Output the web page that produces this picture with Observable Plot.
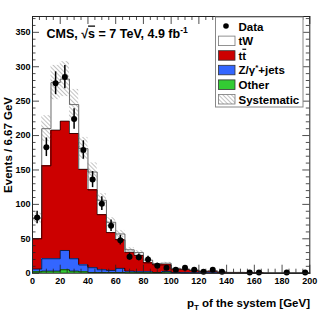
<!DOCTYPE html>
<html><head><meta charset="utf-8">
<script src="https://cdn.jsdelivr.net/npm/d3@7"></script>
<script src="https://cdn.jsdelivr.net/npm/@observablehq/plot@0.6"></script>
<style>
html,body{margin:0;padding:0;background:#fff;}
#chart{width:327px;height:314px;}
svg{display:block;}
</style>
</head><body><div id="chart"></div>
<script>
// ---- data ----
const binWidth = 20 / 3;            // 6.67 GeV bins, 0-200 GeV
const nBins = 30;
const dataCounts = [81,183,276,285,224,179,136,101,69,48,24,23,20,11,8,5,8,5,2,5,2,0,0,1,1,0,0,1,0,1];
const other = [2,3,3,5,3,2,1,1,1,1,0.5,0.5,0.3,0.3,0.3,0.2,0.2,0.1,0.1,0.1,0,0,0,0,0,0,0,0,0,0];
const zjets = [4,18,18,28,18,10,7,4,3,6,2.5,1.5,1.7,0.7,2.1,0.8,0.3,0.4,0.2,0.2,0.2,0,0,0,0,0,0,0,0,0];
const ttbar = [44,135,187,188,182,139,113,80,55,41.5,27.5,24,13,11,9.6,5,5,3.5,2.2,2.7,1.3,1,1,0.5,0.5,0,0,0,0,0];
const tW    = [30,54,69,61,42,30,26,21,15,8.5,3.5,4,4,2,2.5,1,0.5,0.5,0.5,0.5,0.5,0.2,0.2,0.1,0.1,0,0,0,0,0];
const systFrac = 0.09;
const components = ["Other", "Z/γ*+jets", "tt̄", "tW"];
const compColors = ["#33cc33", "#3366ff", "#cc0000", "#ffffff"];
const xTickLabels = [0,20,40,60,80,100,120,140,160,180,200];
const yTickLabels = [0,50,100,150,200,250,300,350];
const xMinor = d3.range(0, 201, 5);
const yMinor = d3.range(0, 371, 10);

// ---- derived tables ----
const edges = d3.range(nBins + 1).map(i => i * binWidth);
const series = [other, zjets, ttbar, tW];
const cum = [];
let run = new Array(nBins).fill(0);
series.forEach(arr => { const base = run.slice(); run = run.map((v, i) => v + arr[i]); cum.push({base, top: run.slice()}); });
const rects = [];
series.forEach((arr, k) => arr.forEach((v, i) => {
  if (v > 0) rects.push({comp: components[k], x1: edges[i], x2: edges[i + 1], y1: cum[k].base[i], y2: cum[k].top[i]});
}));
const steps = [];
cum.forEach((c, k) => c.top.forEach((v, i) => {
  steps.push({level: k, x: edges[i], y: v});
  steps.push({level: k, x: edges[i + 1], y: v});
}));
const total = cum[3].top;
const band = total.map((t, i) => ({x1: edges[i], x2: edges[i + 1], y1: t * (1 - systFrac), y2: t * (1 + systFrac)})).filter(d => d.y2 > d.y1);
const pts = dataCounts.map((n, i) => ({x: (edges[i] + edges[i + 1]) / 2, n})).filter(d => d.n > 0);

const YMAX = 373;
const xMajLen = 8 / 0.6886, xMinLen = 4 / 0.6886;   // tick lengths (in y units)
const yMajLen = 7 / 1.385, yMinLen = 3.5 / 1.385;   // tick lengths (in x units)
const isMajX = v => v % 20 === 0, isMajY = v => v % 50 === 0;

const plot = Plot.plot({
  width: 327, height: 314,
  marginLeft: 32, marginRight: 17.7, marginTop: 16, marginBottom: 41.3,
  style: {fontFamily: "'Liberation Sans', Arial, sans-serif", fontWeight: "bold", fontSize: "9px", background: "#fff", color: "#000"},
  x: {domain: [0, 200]},
  y: {domain: [0, YMAX]},
  color: {domain: components, range: compColors},
  marks: [
    Plot.rect(rects, {x1: "x1", x2: "x2", y1: "y1", y2: "y2", fill: "comp", shapeRendering: "crispEdges"}),
    Plot.line(steps.filter(d => d.level < 3), {x: "x", y: "y", z: "level", stroke: "#000", strokeWidth: 0.7}),
    Plot.line(steps.filter(d => d.level === 3), {x: "x", y: "y", stroke: "#444", strokeWidth: 0.8}),
    Plot.rect(band, {x1: "x1", x2: "x2", y1: "y1", y2: "y2", fill: "url(#hatch)"}),
    // inside ticks on all four sides
    Plot.ruleX(xMinor, {x: d => d, y1: 0, y2: d => isMajX(d) ? xMajLen : xMinLen, stroke: "#222", strokeWidth: 0.8}),
    Plot.ruleX(xMinor, {x: d => d, y1: YMAX, y2: d => YMAX - (isMajX(d) ? xMajLen : xMinLen), stroke: "#222", strokeWidth: 0.8}),
    Plot.ruleY(yMinor, {y: d => d, x1: 0, x2: d => isMajY(d) ? yMajLen : yMinLen, stroke: "#222", strokeWidth: 0.8}),
    Plot.ruleY(yMinor, {y: d => d, x1: 200, x2: d => 200 - (isMajY(d) ? yMajLen : yMinLen), stroke: "#222", strokeWidth: 0.8}),
    Plot.ruleX(pts, {x: "x", y1: d => d.n - Math.sqrt(d.n), y2: d => d.n + Math.sqrt(d.n), stroke: "#000", strokeWidth: 1.5}),
    Plot.dot(pts, {x: "x", y: "n", r: 3, fill: "#000"}),
    Plot.frame({stroke: "#222", strokeWidth: 1}),
    Plot.axisX(xTickLabels, {tickSize: 0, tickPadding: 4, label: null, fontSize: 9}),
    Plot.axisY(yTickLabels, {tickSize: 0, tickPadding: 2, label: null, fontSize: 9})
  ]
});
document.getElementById("chart").appendChild(plot);

// ---- hatch pattern, titles and legend ----
const svg = d3.select(plot);
const defs = svg.insert("defs", ":first-child");
const pat = defs.append("pattern").attr("id", "hatch").attr("patternUnits", "userSpaceOnUse")
  .attr("width", 3).attr("height", 3).attr("patternTransform", "rotate(-45)");
pat.append("line").attr("x1", 0).attr("y1", 0).attr("x2", 0).attr("y2", 3).attr("stroke", "#777").attr("stroke-width", 0.9);

const FONT = "'Liberation Sans', Arial, sans-serif";
const g = svg.append("g").attr("font-family", FONT).attr("font-weight", "bold").attr("fill", "#000").attr("text-anchor", "start");

// x title
const xt = g.append("text").attr("x", 310).attr("y", 306.5).attr("text-anchor", "end").attr("font-size", 11.5);
xt.append("tspan").text("p");
xt.append("tspan").attr("font-size", 8).attr("dy", 3).text("T");
xt.append("tspan").attr("dy", -3).text(" of the system [GeV]");

// y title
g.append("text").attr("transform", "translate(12,97) rotate(-90)").attr("text-anchor", "end")
  .attr("font-size", 11.5).text("Events / 6.67 GeV");

// CMS label
const cms = g.append("text").attr("x", 46.5).attr("y", 37.5).attr("font-size", 12.5).attr("text-anchor", "start");
cms.append("tspan").text("CMS, √");
cms.append("tspan").style("text-decoration", "overline").text("s");
cms.append("tspan").text(" = 7 TeV, 4.9 fb");
cms.append("tspan").attr("font-size", 8.5).attr("dy", -5).text("-1");

// legend
const lg = g.append("g").attr("font-size", 11.5).attr("text-anchor", "start");
lg.append("rect").attr("x", 215.5).attr("y", 17).attr("width", 87.5).attr("height", 90)
  .attr("fill", "#fff").attr("stroke", "#888").attr("stroke-width", 1);
const rows = [
  {label: "Data", type: "dot"},
  {label: "tW", fill: "#ffffff", stroke: "#777"},
  {label: "tt̄", fill: compColors[2], stroke: "#333"},
  {label: "Z/γ*+jets", fill: compColors[1], stroke: "#333"},
  {label: "Other", fill: compColors[0], stroke: "#333"},
  {label: "Systematic", fill: "url(#hatch)", stroke: "#777"}
];
rows.forEach((r, i) => {
  const base = 30.5 + i * 14.6;
  if (r.type === "dot") {
    lg.append("circle").attr("cx", 226).attr("cy", base - 4.5).attr("r", 2.8).attr("fill", "#000");
  } else {
    lg.append("rect").attr("x", 218.5).attr("y", base - 9).attr("width", 16.5).attr("height", 9.5)
      .attr("fill", r.fill).attr("stroke", r.stroke).attr("stroke-width", 0.8);
  }
  const t = lg.append("text").attr("x", 238.5).attr("y", base).attr("text-anchor", "start");
  if (i === 2) {
    t.append("tspan").text("t");
    t.append("tspan").style("text-decoration", "overline").text("t");
  } else if (i === 3) {
    t.append("tspan").text("Z/γ");
    t.append("tspan").attr("font-size", 8).attr("dy", -4).text("*");
    t.append("tspan").attr("dy", 4).text("+jets");
  } else {
    t.text(r.label);
  }
});
</script>
</body></html>
